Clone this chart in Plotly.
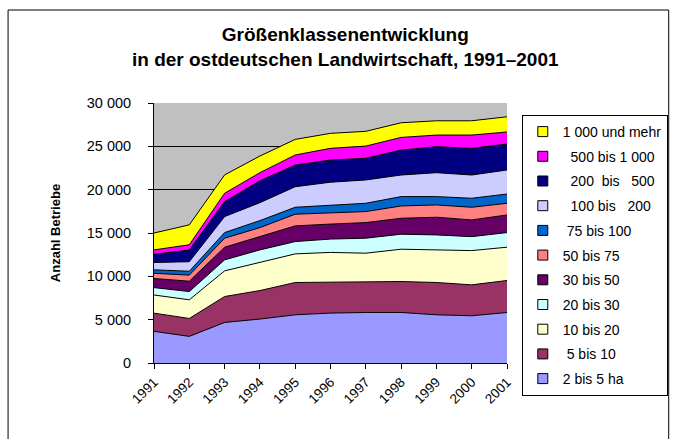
import plotly.graph_objects as go

years = [1991, 1992, 1993, 1994, 1995, 1996, 1997, 1998, 1999, 2000, 2001]

names = ["2 bis 5 ha", "\u00a05 bis 10", "10 bis 20", "20 bis 30", "30 bis 50", "50 bis 75",
         "\u00a075 bis 100", "\u00a0\u00a0100 bis\u00a0\u00a0\u00a0200", "\u00a0\u00a0200\u00a0\u00a0bis\u00a0\u00a0\u00a0500",
         "\u00a0\u00a0500 bis 1 000", "1 000 und mehr"]
colors = ["#9999FF", "#993366", "#FFFFCC", "#CCFFFF", "#660066", "#FF8080",
          "#0066CC", "#CCCCFF", "#000080", "#FF00FF", "#FFFF00"]

s_2_5 = [3650, 3070, 4680, 5070, 5560, 5760, 5830, 5830, 5560, 5450, 5830]
s_5_10 = [2100, 2070, 2990, 3290, 3730, 3550, 3500, 3570, 3730, 3570, 3690]
s_10_20 = [2100, 2150, 2960, 3230, 3300, 3450, 3340, 3730, 3760, 3950, 3840]
s_20_30 = [850, 950, 1270, 1460, 1420, 1540, 1730, 1730, 1730, 1610, 1690]
s_30_50 = [1050, 1200, 1460, 1530, 1810, 1730, 1800, 1840, 2040, 1930, 2030]
s_50_75 = [600, 700, 1040, 1040, 1350, 1320, 1270, 1420, 1420, 1460, 1350]
s_75_100 = [400, 450, 650, 810, 800, 890, 960, 1080, 960, 1040, 1070]
s_100_200 = [850, 1100, 1840, 2070, 2370, 2620, 2690, 2490, 2760, 2680, 2770]
s_200_500 = [950, 1350, 1730, 2530, 2500, 2560, 2500, 2880, 3000, 3080, 2990]
s_500_1000 = [500, 600, 960, 930, 1160, 1350, 1410, 1460, 1340, 1530, 1390]
s_1000 = [1950, 2300, 2120, 1920, 1800, 1730, 1700, 1690, 1650, 1650, 1760]

series = [s_2_5, s_5_10, s_10_20, s_20_30, s_30_50, s_50_75, s_75_100,
          s_100_200, s_200_500, s_500_1000, s_1000]

FONT = "Liberation Sans, Arial, sans-serif"

fig = go.Figure()
for name, col, vals in zip(names, colors, series):
    fig.add_trace(go.Scatter(
        x=years, y=vals, name=name, stackgroup="one", mode="lines",
        line=dict(color="black", width=1), fillcolor=col, showlegend=False,
        hoverinfo="x+y+name"))

# legend entries (square keys like the original), listed top class first
for name, col in reversed(list(zip(names, colors))):
    fig.add_trace(go.Scatter(
        x=[None], y=[None], name=name, mode="markers",
        marker=dict(symbol="square", size=10, color=col, line=dict(color="black", width=1)),
        showlegend=True, legendgroup=name))

fig.update_layout(
    width=680, height=439,
    margin=dict(l=154, r=168, t=103, b=76),
    paper_bgcolor="white",
    plot_bgcolor="#C0C0C0",
    separators=", ",
    font=dict(family=FONT, size=12, color="black"),
    title=dict(
        text="<b>Größenklassenentwicklung<br>in der ostdeutschen Landwirtschaft, 1991–2001</b>",
        x=(348 - 154) / 358, xref="paper", xanchor="center",
        y=1 - 41 / 439, yref="container", yanchor="middle",
        font=dict(family=FONT, size=19, color="black")),
    xaxis=dict(
        range=[1991, 2001], tickmode="array", tickvals=years,
        ticktext=[str(y) for y in years], tickangle=-45,
        ticks="outside", ticklen=5, tickcolor="black",
        showline=True, linecolor="black", linewidth=1, showgrid=False,
        zeroline=False, tickfont=dict(size=13.5)),
    yaxis=dict(
        range=[0, 30000], dtick=5000, tickformat=",.0f",
        ticks="outside", ticklen=5, tickcolor="black",
        showline=True, linecolor="black", linewidth=1,
        showgrid=True, gridcolor="black", gridwidth=1, zeroline=False,
        tickfont=dict(size=14.5), ticklabelstandoff=14,
        title=dict(text="<b>Anzahl Betriebe</b>", font=dict(size=13), standoff=23)),
    legend=dict(
        x=(527 - 154) / 358, xanchor="left",
        y=(363 - 115) / 260, yanchor="top",
        bordercolor="black", borderwidth=1, bgcolor="white",
        traceorder="grouped", tracegroupgap=3.5, maxheight=320,
        font=dict(family=FONT, size=14), itemwidth=30),
    shapes=[dict(type="path", xref="paper", yref="paper",
                 path="M {x0},{y0} L {x0},{y1} L {x1},{y1} L {x1},{y0}".format(
                     x0=(6 - 154) / 358, x1=(676 - 154) / 358,
                     y0=(363 - 445) / 260, y1=(363 - 10) / 260),
                 line=dict(color="black", width=1))],
)

fig.write_html("out.html", post_script="document.body.style.margin='0';",
               config={"displayModeBar": False})
